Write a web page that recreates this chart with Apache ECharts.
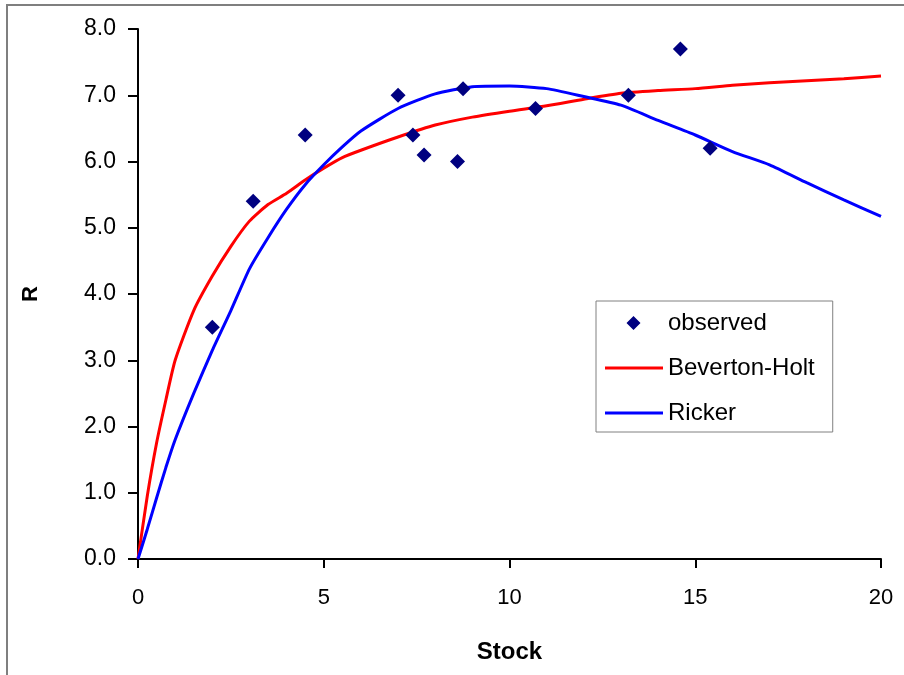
<!DOCTYPE html>
<html>
<head>
<meta charset="utf-8">
<script src="https://cdn.jsdelivr.net/npm/echarts@6/dist/echarts.min.js"></script>
<style>
  html, body { margin: 0; padding: 0; background: #fff; }
  #chart { width: 904px; height: 675px; }
</style>
</head>
<body>
<div id="chart"></div>
<script>
// observed stock / recruitment pairs
var obsStock = [2.0, 3.1, 4.5, 7.0, 7.4, 7.7, 8.6, 8.75, 10.7, 13.2, 14.6, 15.4];
var obsR = [3.5, 5.4, 6.4, 7.0, 6.4, 6.1, 6.0, 7.1, 6.8, 7.0, 7.7, 6.2];

// fitted curves, read at these stock values
var curveStock = [0, 0.25, 0.5, 0.75, 1, 1.5, 2, 2.5, 3, 3.5, 4, 4.5, 5, 5.5, 6, 7, 8, 9, 10,
                  11, 12, 13, 14, 15, 16, 17, 18, 19, 20];
var bevertonHolt = [0, 0.95, 1.75, 2.4, 3.0, 3.75, 4.27, 4.72, 5.1, 5.35, 5.52, 5.72, 5.9, 6.06, 6.17, 6.37, 6.55, 6.67, 6.76,
                    6.84, 6.94, 7.03, 7.07, 7.10, 7.15, 7.19, 7.22, 7.25, 7.29];
var ricker = [0, 0.45, 0.92, 1.38, 1.8, 2.5, 3.15, 3.75, 4.38, 4.85, 5.28, 5.65, 5.95, 6.22, 6.46, 6.8, 7.02, 7.13, 7.14,
              7.1, 6.98, 6.85, 6.62, 6.4, 6.15, 5.95, 5.68, 5.42, 5.17];

var font = 'Liberation Sans, Arial, sans-serif';
// legend glyphs: thin bar for lines, diamond padded out to the full icon box
var lineIcon = 'path://M0,0 L58,0 L58,3 L0,3 Z';
var diamondIcon = 'path://M21.5,7 L28.5,0 L35.5,7 L28.5,14 Z M0,0 L0,0.01 M58,14 L58,13.99';

function pairs(xs, ys) {
    var out = [];
    for (var i = 0; i < xs.length; i++) out.push([xs[i], ys[i]]);
    return out;
}

var myChart = echarts.init(document.getElementById('chart'));

var option = {
    backgroundColor: '#fff',
    animation: false,
    graphic: [{
        type: 'rect',
        shape: { x: 7, y: 5, width: 1000, height: 1000 },
        style: { fill: 'none', stroke: '#7f7f7f', lineWidth: 2 },
        silent: true
    }],
    grid: { left: 138, right: 23, top: 29, bottom: 116, containLabel: false },
    legend: {
        orient: 'vertical',
        left: 596,
        top: 301,
        padding: [10, 18, 7, 9],
        itemWidth: 58,
        itemHeight: 14,
        itemGap: 21,
        symbolKeepAspect: true,
        backgroundColor: '#fff',
        borderColor: '#808080',
        borderWidth: 1,
        textStyle: { fontFamily: font, fontSize: 24, lineHeight: 24, color: '#000' },
        data: [
            { name: 'observed', icon: diamondIcon },
            { name: 'Beverton-Holt', icon: lineIcon },
            { name: 'Ricker', icon: lineIcon }
        ]
    },
    xAxis: {
        type: 'value',
        min: 0, max: 20, interval: 5,
        name: 'Stock',
        nameLocation: 'middle',
        nameGap: 81,
        nameTextStyle: { fontFamily: font, fontSize: 24, fontWeight: 'bold', color: '#000' },
        axisLine: { onZero: false, lineStyle: { color: '#000', width: 2 } },
        axisTick: { length: 9, lineStyle: { color: '#000', width: 2 } },
        axisLabel: { margin: 28, fontFamily: font, fontSize: 22, color: '#000' },
        splitLine: { show: false }
    },
    yAxis: {
        type: 'value',
        min: 0, max: 8, interval: 1,
        name: 'R',
        nameLocation: 'middle',
        nameGap: 96,
        nameTextStyle: { fontFamily: font, fontSize: 22, fontWeight: 'bold', color: '#000' },
        axisLine: { show: true, onZero: false, lineStyle: { color: '#000', width: 2 } },
        axisTick: { show: true, length: 10, lineStyle: { color: '#000', width: 2 } },
        axisLabel: {
            margin: 22, fontFamily: font, fontSize: 23, color: '#000',
            formatter: function (v) { return v.toFixed(1); }
        },
        splitLine: { show: false }
    },
    series: [
        {
            name: 'observed',
            type: 'scatter',
            symbol: 'diamond',
            symbolSize: 15,
            itemStyle: { color: '#000080', opacity: 1 },
            z: 5,
            data: pairs(obsStock, obsR)
        },
        {
            name: 'Beverton-Holt',
            type: 'line',
            symbol: 'none',
            smooth: 0.2,
            lineStyle: { color: '#ff0000', width: 3 },
            itemStyle: { color: '#ff0000' },
            z: 3,
            data: pairs(curveStock, bevertonHolt)
        },
        {
            name: 'Ricker',
            type: 'line',
            symbol: 'none',
            smooth: 0.2,
            lineStyle: { color: '#0000ff', width: 3 },
            itemStyle: { color: '#0000ff' },
            z: 3,
            data: pairs(curveStock, ricker)
        }
    ]
};

myChart.setOption(option);
</script>
</body>
</html>
